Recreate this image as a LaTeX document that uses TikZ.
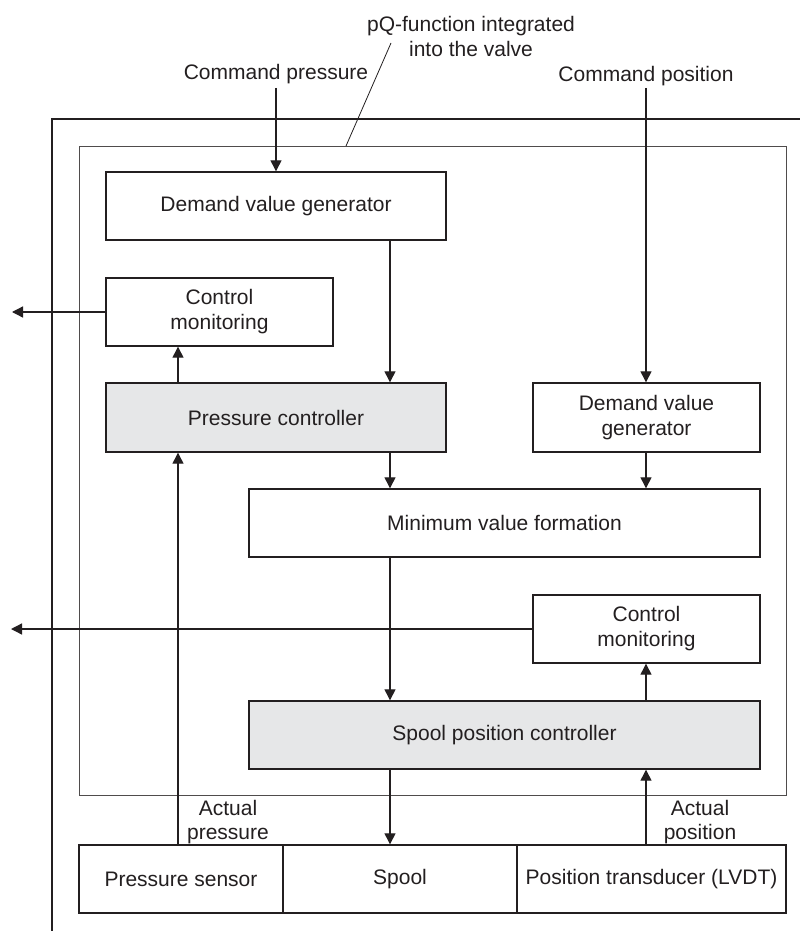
\documentclass[tikz,border=0pt]{standalone}
\usepackage{fontspec}
\setmainfont{Liberation Sans}
\usetikzlibrary{arrows.meta}
\definecolor{ink}{HTML}{231F20}
\definecolor{boxgray}{HTML}{E6E7E8}
\begin{document}
\begin{tikzpicture}[x=1pt,y=-1pt,
  every node/.style={font=\fontsize{21}{25}\selectfont, text=ink},
  blk/.style={draw=ink, line width=1.4pt, minimum height=68pt, inner sep=0pt, align=center},
  shaded/.style={blk, fill=boxgray},
  arr/.style={draw=ink, line width=1.3pt, -{Triangle[length=11pt,width=11pt]}},
  ln/.style={draw=ink, line width=1.3pt},
  lbl/.style={align=center, inner sep=0pt}
]
\fill[white] (0,0) rectangle (800,931);
\useasboundingbox (0,0) rectangle (800,931);

% frames
\draw[ink, line width=2.4pt] (52,931) -- (52,119) -- (800,119);
\draw[ink!80, line width=0.9pt] (79,146) rectangle (786,795);

% column coordinates
\coordinate (xa) at (178,0);
\coordinate (xb) at (390,0);
\coordinate (xc) at (646,0);

% blocks
\node[blk, minimum width=340pt] (dvg1) at (276,206) {Demand value generator};
\node[blk, minimum width=227pt] (cm1) at (219.5,312) {Control\\monitoring};
\node[shaded, minimum width=340pt, minimum height=69pt] (pc) at (276,417.5) {Pressure controller};
\node[blk, minimum width=227pt, minimum height=69pt] (dvg2) at (646.5,417.5) {Demand value\\generator};
\node[blk, minimum width=511pt] (mvf) at (504.5,523) {Minimum value formation};
\node[blk, minimum width=227pt] (cm2) at (646.5,629) {Control\\monitoring};
\node[shaded, minimum width=511pt] (spc) at (504.5,735) {Spool position controller};
\node[blk, minimum width=204pt] (ps) at (181,879) {Pressure sensor};
\node[blk, minimum width=234pt] (sp) at (400,879) {Spool};
\node[blk, minimum width=269pt] (pt) at (651.5,879) {Position transducer (LVDT)};

% labels
\node[lbl, anchor=base] (cmdp) at (276,80) {Command pressure};
\node[lbl, anchor=base] (cmdpos) at (646,82) {Command position};
\node[lbl, anchor=base] (pq1) at (471,32) {pQ-function integrated};
\node[lbl, anchor=base] (pq2) at (471,57) {into the valve};
\node[lbl, anchor=base] (ap1) at (228,815) {Actual};
\node[lbl, anchor=base] (ap2) at (228,839) {pressure};
\node[lbl, anchor=base] (apos1) at (700,815) {Actual};
\node[lbl, anchor=base] (apos2) at (700,839) {position};

\coordinate (cpin) at (276,88);
\coordinate (cposin) at (646,88);
\coordinate (lead1) at (391,43);
\coordinate (lead2) at (346,146);
\coordinate (out1) at (12,312);
\coordinate (out2) at (11,629);

% leader line
\draw[ink, line width=0.8pt] (lead1) -- (lead2);

% connectors
\draw[arr] (cpin) -- (dvg1.north -| cpin);
\draw[arr] (cposin) -- (dvg2.north -| cposin);
\draw[arr] (dvg1.south -| xb) -- (pc.north -| xb);
\draw[arr] (pc.north -| xa) -- (cm1.south -| xa);
\draw[arr] (cm1.west) -- (out1);
\draw[arr] (pc.south -| xb) -- (mvf.north -| xb);
\draw[arr] (dvg2.south -| xc) -- (mvf.north -| xc);
\draw[arr] (mvf.south -| xb) -- (spc.north -| xb);
\draw[arr] (spc.north -| xc) -- (cm2.south -| xc);
\draw[arr] (cm2.west) -- (out2);
\draw[arr] (ps.north -| xa) -- (pc.south -| xa);
\draw[arr] (spc.south -| xb) -- (sp.north -| xb);
\draw[arr] (pt.north -| xc) -- (spc.south -| xc);
\end{tikzpicture}
\end{document}
